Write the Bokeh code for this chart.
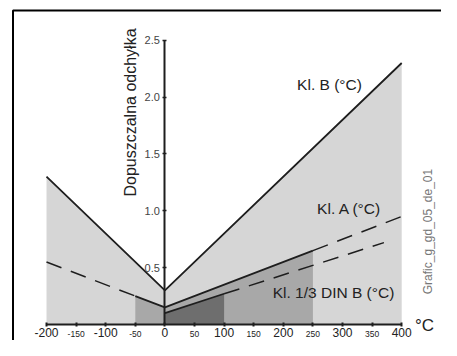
import math
from bokeh.plotting import figure
from bokeh.models import (Range1d, LinearAxis, FixedTicker, Label, BoxAnnotation)
from bokeh.embed import file_html
from bokeh.resources import INLINE

# ---- data ----
kl_b_t = [-200, 0, 400]
kl_b_v = [1.3, 0.3, 2.3]

kl_a_left_t = [-200, -50]
kl_a_left_v = [0.55, 0.25]
kl_a_mid_t = [-50, 0, 250]
kl_a_mid_v = [0.25, 0.15, 0.65]
kl_a_right_t = [250, 400]
kl_a_right_v = [0.65, 0.95]

din_solid_t = [0, 100]
din_solid_v = [0.10, 0.27]
din_dash_t = [100, 370]
din_dash_v = [0.27, 0.72]

big_ticks = [-200, -100, 0, 100, 200, 300, 400]
big_labels = ["-200", "-100", "0", "100", "200", "300", "400"]
small_ticks = [-150, -50, 50, 150, 250, 350]
small_labels = ["-150", "-50", "50", "150", "250", "350"]
y_ticks = [0.5, 1.0, 1.5, 2.0, 2.5]
y_labels = ["0.5", "1.0", "1.5", "2.0", "2.5"]

# ---- pixel mapping (figure coords) ----
W, H = 441, 340
X0, SX = 46.0, 0.592       # x pixel of t=-200, px per degree
Y0, SY = 324.0, 113.7      # y pixel of v=0, px per unit

def t_of(px):
    return -200 + (px - X0) / SX

def v_of(py):
    return (Y0 - py) / SY

FONT = "Liberation Sans"
LINE = "#1e1e1e"

p = figure(width=W, height=H, output_backend="svg", toolbar_location=None,
           x_range=Range1d(t_of(0), t_of(W)), y_range=Range1d(v_of(H), v_of(0)),
           x_axis_location=None, y_axis_location=None,
           min_border=0, min_border_left=0, min_border_right=0,
           min_border_top=0, min_border_bottom=0)
p.grid.visible = False
p.outline_line_color = None
p.background_fill_color = "white"
p.border_fill_color = "white"

# fills
p.varea(x=kl_b_t, y1=[0] * len(kl_b_t), y2=kl_b_v, fill_color="#d6d6d6")
p.varea(x=kl_a_mid_t, y1=[0] * len(kl_a_mid_t), y2=kl_a_mid_v, fill_color="#a8a8a8")
p.varea(x=din_solid_t, y1=[0] * len(din_solid_t), y2=din_solid_v, fill_color="#6e6e6e")

# lines
p.line(kl_b_t, kl_b_v, line_color=LINE, line_width=1.8)
p.line(kl_a_mid_t, kl_a_mid_v, line_color=LINE, line_width=1.8)
p.line(kl_a_left_t, kl_a_left_v, line_color=LINE, line_width=1.5, line_dash="16 10")
p.line(kl_a_right_t, kl_a_right_v, line_color=LINE, line_width=1.5, line_dash="16 10")
p.line(din_solid_t, din_solid_v, line_color=LINE, line_width=1.6)
p.line(din_dash_t, din_dash_v, line_color=LINE, line_width=1.5, line_dash="16 10")

# axes
xb = LinearAxis(ticker=FixedTicker(ticks=big_ticks),
                major_label_overrides=dict(zip(big_ticks, big_labels)))
xb.fixed_location = 0
xb.bounds = (-200, 400)
xb.axis_line_width = 2
xb.axis_line_color = LINE
xb.major_tick_in = 2
xb.major_tick_out = 2
xb.major_tick_line_width = 2
xb.major_tick_line_color = LINE
xb.minor_tick_line_color = None
xb.major_label_standoff = 1
xb.major_label_text_font = FONT
xb.major_label_text_font_size = "12px"
xb.major_label_text_color = "#222222"
p.add_layout(xb, "below")

xs = LinearAxis(ticker=FixedTicker(ticks=small_ticks),
                major_label_overrides=dict(zip(small_ticks, small_labels)))
xs.fixed_location = 0
xs.bounds = (-200, 400)
xs.axis_line_color = None
xs.major_tick_in = 2
xs.major_tick_out = 2
xs.major_tick_line_width = 2
xs.major_tick_line_color = LINE
xs.minor_tick_line_color = None
xs.major_label_standoff = 4
xs.major_label_text_font = FONT
xs.major_label_text_font_size = "8.5px"
xs.major_label_text_color = "#222222"
p.add_layout(xs, "below")

ya = LinearAxis(ticker=FixedTicker(ticks=y_ticks),
                major_label_overrides=dict(zip(y_ticks, y_labels)))
ya.fixed_location = 0
ya.bounds = (0, 2.5)
ya.axis_line_width = 2
ya.axis_line_color = LINE
ya.major_tick_in = 2
ya.major_tick_out = 2
ya.major_tick_line_width = 1.5
ya.major_tick_line_color = LINE
ya.minor_tick_line_color = None
ya.major_label_standoff = 3
ya.major_label_text_font = FONT
ya.major_label_text_font_size = "11px"
ya.major_label_text_color = "#444444"
p.add_layout(ya, "left")

# frame (top and left edges only; other edges fall outside the canvas)
p.add_layout(BoxAnnotation(left=t_of(12.5), right=t_of(600), top=v_of(10), bottom=v_of(600),
                           fill_alpha=0, line_color="black", line_alpha=1.0, line_width=2))

def lab(text, px, py, size, color="#222222", angle=0.0):
    p.add_layout(Label(x=t_of(px), y=v_of(py), text=text, text_font=FONT,
                       text_font_size=size, text_color=color, text_align="center",
                       text_baseline="middle", angle=angle))

lab("Dopuszczalna odchyłka", 130, 112, "16px", angle=math.pi / 2)
lab("Kl. B (°C)", 329, 84, "15.5px")
lab("Kl. A (°C)", 349, 208, "15.5px")
lab("Kl. 1/3 DIN B (°C)", 333, 292, "15.5px")
lab("Grafic_g_gd_05_de_01", 427, 231, "12px", color="#777777", angle=math.pi / 2)
lab("°C", 424, 325, "17px")

open("out.html", "w").write(file_html(p, INLINE))
